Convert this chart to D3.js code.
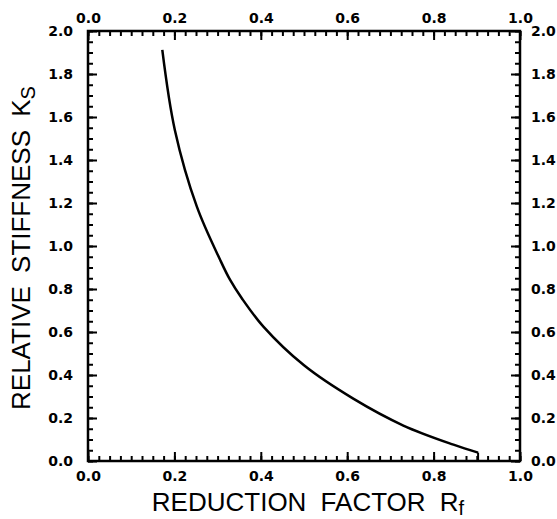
<!DOCTYPE html>
<html>
<head>
<meta charset="utf-8">
<script src="https://cdn.jsdelivr.net/npm/d3@7"></script>
<style>
  body { margin: 0; background: #fff; }
  svg { display: block; }
</style>
</head>
<body>
<div id="chart"></div>
<script>
// curva: fator de redução Rf x rigidez relativa Ks
const rfValues = [0.172, 0.201, 0.252, 0.306, 0.329, 0.356, 0.406, 0.500, 0.614, 0.730, 0.846, 0.903, 0.903];
const ksValues = [1.912, 1.540, 1.183, 0.935, 0.842, 0.757, 0.625, 0.445, 0.290, 0.165, 0.076, 0.039, 0.0];

// rótulos dos eixos
const xTickLabels = [0, 0.2, 0.4, 0.6, 0.8, 1.0];
const yTickLabels = [0, 0.2, 0.4, 0.6, 0.8, 1.0, 1.2, 1.4, 1.6, 1.8, 2.0];
const xMinorStep = 0.025;
const yMinorStep = 0.05;

const W = 557, H = 519;
const margin = { top: 31, right: 37, bottom: 58, left: 88 };
const width = W - margin.left - margin.right;
const height = H - margin.top - margin.bottom;

const svg = d3.select("#chart")
  .append("svg")
  .attr("width", W)
  .attr("height", H);

const g = svg.append("g")
  .attr("transform", `translate(${margin.left},${margin.top})`);

const x = d3.scaleLinear().domain([0, 1]).range([0, width]);
const y = d3.scaleLinear().domain([0, 2]).range([height, 0]);

const xMinor = d3.range(0, 1 + 1e-9, xMinorStep);
const yMinor = d3.range(0, 2 + 1e-9, yMinorStep);
const fmt = d3.format(".1f");

// eixos: menores (sem texto) e principais (com texto), todos para dentro
function styleAxis(sel) {
  sel.select(".domain").remove();
  sel.selectAll(".tick line").attr("stroke", "#000").attr("stroke-width", 2);
  sel.selectAll(".tick text")
    .attr("fill", "#000")
    .style("font-family", "'DejaVu Sans', sans-serif")
    .style("font-weight", "bold")
    .style("font-size", "14px");
}

const axes = [
  { ax: d3.axisBottom, scale: x, minor: xMinor, major: xTickLabels, tr: `translate(0,${height})`, pad: 10 },
  { ax: d3.axisTop, scale: x, minor: xMinor, major: xTickLabels, tr: "translate(0,0)", pad: 8 },
  { ax: d3.axisLeft, scale: y, minor: yMinor, major: yTickLabels, tr: "translate(0,0)", pad: 15 },
  { ax: d3.axisRight, scale: y, minor: yMinor, major: yTickLabels, tr: `translate(${width},0)`, pad: 11 },
];

axes.forEach((a) => {
  g.append("g")
    .attr("transform", a.tr)
    .call(a.ax(a.scale).tickValues(a.minor).tickSize(-5).tickFormat(""))
    .call(styleAxis);
  g.append("g")
    .attr("transform", a.tr)
    .call(a.ax(a.scale).tickValues(a.major).tickSizeInner(-9).tickSizeOuter(0).tickPadding(a.pad).tickFormat(fmt))
    .call(styleAxis);
});

// moldura
g.append("rect")
  .attr("x", 0)
  .attr("y", 0)
  .attr("width", width)
  .attr("height", height)
  .attr("fill", "none")
  .attr("stroke", "#000")
  .attr("stroke-width", 2.5);

// curva (suave) + queda vertical final (reta)
const pts = rfValues.map((v, i) => [v, ksValues[i]]);
const smooth = d3.line()
  .x((d) => x(d[0]))
  .y((d) => y(d[1]))
  .curve(d3.curveCatmullRom.alpha(0.5));
const straight = d3.line()
  .x((d) => x(d[0]))
  .y((d) => y(d[1]));

g.append("path")
  .datum(pts.slice(0, -1))
  .attr("d", smooth)
  .attr("fill", "none")
  .attr("stroke", "#000")
  .attr("stroke-width", 2.5)
  .attr("stroke-linejoin", "round");

g.append("path")
  .datum(pts.slice(-2))
  .attr("d", straight)
  .attr("fill", "none")
  .attr("stroke", "#000")
  .attr("stroke-width", 2);

// títulos dos eixos
const titleFont = "'Liberation Sans', Arial, sans-serif";

const xt = svg.append("text")
  .attr("x", margin.left + width / 2 + 4)
  .attr("y", 511)
  .attr("text-anchor", "middle")
  .style("font-family", titleFont)
  .style("font-size", "26px")
  .style("word-spacing", "7px")
  .attr("fill", "#000");
xt.append("tspan").text("REDUCTION FACTOR R");
xt.append("tspan").attr("dy", 4).style("font-size", "20px").text("f");

const yt = svg.append("text")
  .attr("transform", `translate(30,${margin.top + height / 2 + 2}) rotate(-90)`)
  .attr("text-anchor", "middle")
  .style("font-family", titleFont)
  .style("font-size", "26px")
  .style("word-spacing", "6px")
  .attr("fill", "#000");
yt.append("tspan").text("RELATIVE STIFFNESS K");
yt.append("tspan").attr("dy", 5).style("font-size", "20px").text("S");
</script>
</body>
</html>
